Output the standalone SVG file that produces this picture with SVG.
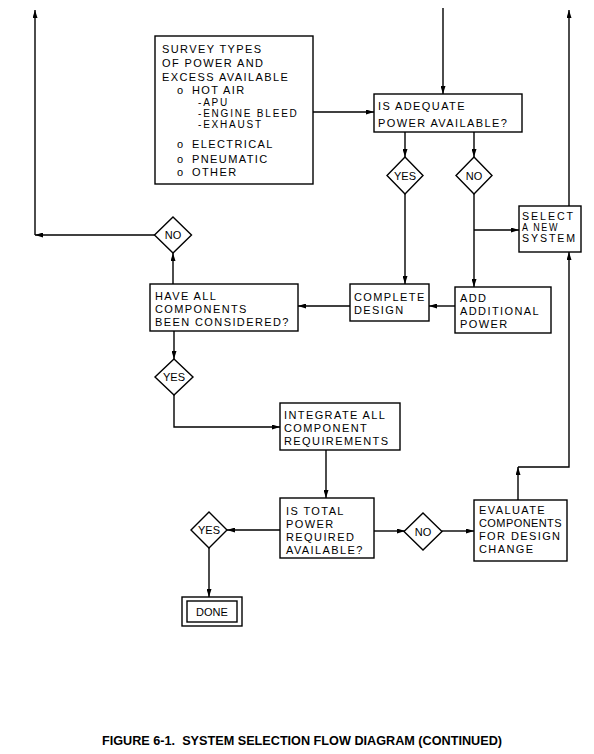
<svg xmlns="http://www.w3.org/2000/svg" width="594" height="754" viewBox="0 0 594 754">
<style>
.box{fill:#fff;stroke:#000;stroke-width:1.4}
.dia{fill:#fff;stroke:#000;stroke-width:1.4}
.ln{fill:none;stroke:#000;stroke-width:1.4}
.t{font-family:"Liberation Sans",Arial,sans-serif;font-size:11px;letter-spacing:1.4px;fill:#000}
.s{font-size:10px;letter-spacing:1.8px}
.c{text-anchor:middle;letter-spacing:0}
.cap{font-family:"Liberation Sans",Arial,sans-serif;font-size:12.5px;font-weight:bold;fill:#000}
</style>
<defs>
<marker id="ah" viewBox="0 0 8 5" refX="8" refY="2.5" markerWidth="8" markerHeight="5" markerUnits="userSpaceOnUse" orient="auto">
<path d="M0,0 L8,2.5 L0,5 z" fill="#000"/>
</marker>
</defs>
<rect width="594" height="754" fill="#fff"/>

<g id="connectors">
<path class="ln" d="M443,8 V94" marker-end="url(#ah)"/>
<path class="ln" d="M313,112 H374" marker-end="url(#ah)"/>
<path class="ln" d="M405,132 V157" marker-end="url(#ah)"/>
<path class="ln" d="M474,132 V157" marker-end="url(#ah)"/>
<path class="ln" d="M405,194 V284" marker-end="url(#ah)"/>
<path class="ln" d="M474,194 V287" marker-end="url(#ah)"/>
<path class="ln" d="M474,230 H519" marker-end="url(#ah)"/>
<path class="ln" d="M569,206 V10" marker-end="url(#ah)"/>
<path class="ln" d="M455,306 H429" marker-end="url(#ah)"/>
<path class="ln" d="M350,306 H298" marker-end="url(#ah)"/>
<path class="ln" d="M173,284 V253" marker-end="url(#ah)"/>
<path class="ln" d="M155,235 H35" marker-end="url(#ah)"/>
<path class="ln" d="M35,235 V10" marker-end="url(#ah)"/>
<path class="ln" d="M174,331 V359" marker-end="url(#ah)"/>
<path class="ln" d="M174,395 V427 H280" marker-end="url(#ah)"/>
<path class="ln" d="M326,450 V498" marker-end="url(#ah)"/>
<path class="ln" d="M280,530 H227" marker-end="url(#ah)"/>
<path class="ln" d="M209,547 V597" marker-end="url(#ah)"/>
<path class="ln" d="M374,531 H405" marker-end="url(#ah)"/>
<path class="ln" d="M442,531 H474" marker-end="url(#ah)"/>
<path class="ln" d="M518,500 V467" marker-end="url(#ah)"/>
<path class="ln" d="M518,467 H569 V252" marker-end="url(#ah)"/>
</g>

<g id="survey">
<rect class="box" x="155" y="36" width="158" height="148"/>
<text class="t" x="162" y="53">SURVEY TYPES</text>
<text class="t" x="162" y="67">OF POWER AND</text>
<text class="t" x="162" y="81">EXCESS AVAILABLE</text>
<text class="t" x="177" y="94">o</text><text class="t" x="192" y="94">HOT AIR</text>
<text class="t s" x="198" y="106">-APU</text>
<text class="t s" x="198" y="117">-ENGINE BLEED</text>
<text class="t s" x="198" y="128">-EXHAUST</text>
<text class="t" x="177" y="148">o</text><text class="t" x="192" y="148">ELECTRICAL</text>
<text class="t" x="177" y="162.5">o</text><text class="t" x="192" y="162.5">PNEUMATIC</text>
<text class="t" x="177" y="176">o</text><text class="t" x="192" y="176">OTHER</text>
</g>

<g id="adequate">
<rect class="box" x="374" y="94" width="148" height="38"/>
<text class="t" x="378" y="110">IS ADEQUATE</text>
<text class="t" x="378" y="127">POWER AVAILABLE?</text>
</g>

<g id="yes1">
<polygon class="dia" points="405,157 423,175.5 405,194 387,175.5"/>
<text class="t c" x="405" y="179.5">YES</text>
</g>

<g id="no1">
<polygon class="dia" points="474,157 492,175.5 474,194 456,175.5"/>
<text class="t c" x="474" y="179.5">NO</text>
</g>

<g id="select">
<rect class="box" x="519" y="206" width="62" height="46"/>
<text class="t s" x="522" y="220" textLength="53" lengthAdjust="spacingAndGlyphs">SELECT</text>
<text class="t s" x="522" y="231" textLength="37" lengthAdjust="spacingAndGlyphs">A NEW</text>
<text class="t s" x="522" y="242" textLength="55" lengthAdjust="spacingAndGlyphs">SYSTEM</text>
</g>

<g id="complete">
<rect class="box" x="350" y="284" width="79" height="37"/>
<text class="t" x="354" y="301">COMPLETE</text>
<text class="t" x="354" y="314">DESIGN</text>
</g>

<g id="add">
<rect class="box" x="455" y="287" width="96" height="46"/>
<text class="t" x="460" y="302">ADD</text>
<text class="t" x="460" y="315">ADDITIONAL</text>
<text class="t" x="460" y="328">POWER</text>
</g>

<g id="haveall">
<rect class="box" x="150" y="284" width="148" height="47"/>
<text class="t" x="155" y="300">HAVE ALL</text>
<text class="t" x="155" y="313">COMPONENTS</text>
<text class="t" x="155" y="326">BEEN CONSIDERED?</text>
</g>

<g id="no2">
<polygon class="dia" points="173,217 191.5,235 173,253 154.5,235"/>
<text class="t c" x="173" y="239">NO</text>
</g>

<g id="yes2">
<polygon class="dia" points="174,359 193,377 174,395 155,377"/>
<text class="t c" x="174" y="381">YES</text>
</g>

<g id="integrate">
<rect class="box" x="280" y="403" width="120" height="47"/>
<text class="t" x="284" y="419">INTEGRATE ALL</text>
<text class="t" x="284" y="432">COMPONENT</text>
<text class="t" x="284" y="445">REQUIREMENTS</text>
</g>

<g id="total">
<rect class="box" x="280" y="498" width="94" height="60"/>
<text class="t" x="286" y="515">IS TOTAL</text>
<text class="t" x="286" y="528">POWER</text>
<text class="t" x="286" y="541">REQUIRED</text>
<text class="t" x="286" y="554">AVAILABLE?</text>
</g>

<g id="yes3">
<polygon class="dia" points="209,512 227,530 209,548 191,530"/>
<text class="t c" x="209" y="534">YES</text>
</g>

<g id="done">
<rect class="box" x="182" y="597" width="60" height="29"/>
<rect class="box" x="187" y="601" width="50" height="21"/>
<text class="t c" x="212" y="616">DONE</text>
</g>

<g id="no3">
<polygon class="dia" points="423,513 442,531.5 423,550 404,531.5"/>
<text class="t c" x="423" y="535.5">NO</text>
</g>

<g id="evaluate">
<rect class="box" x="474" y="500" width="93" height="61"/>
<text class="t" x="479" y="514">EVALUATE</text>
<text class="t" x="479" y="527" textLength="84">COMPONENTS</text>
<text class="t" x="479" y="540">FOR DESIGN</text>
<text class="t" x="479" y="553">CHANGE</text>
</g>

<g id="caption">
<text class="cap" x="102" y="745" textLength="400" lengthAdjust="spacingAndGlyphs" xml:space="preserve">FIGURE 6-1.  SYSTEM SELECTION FLOW DIAGRAM (CONTINUED)</text>
</g>
</svg>
